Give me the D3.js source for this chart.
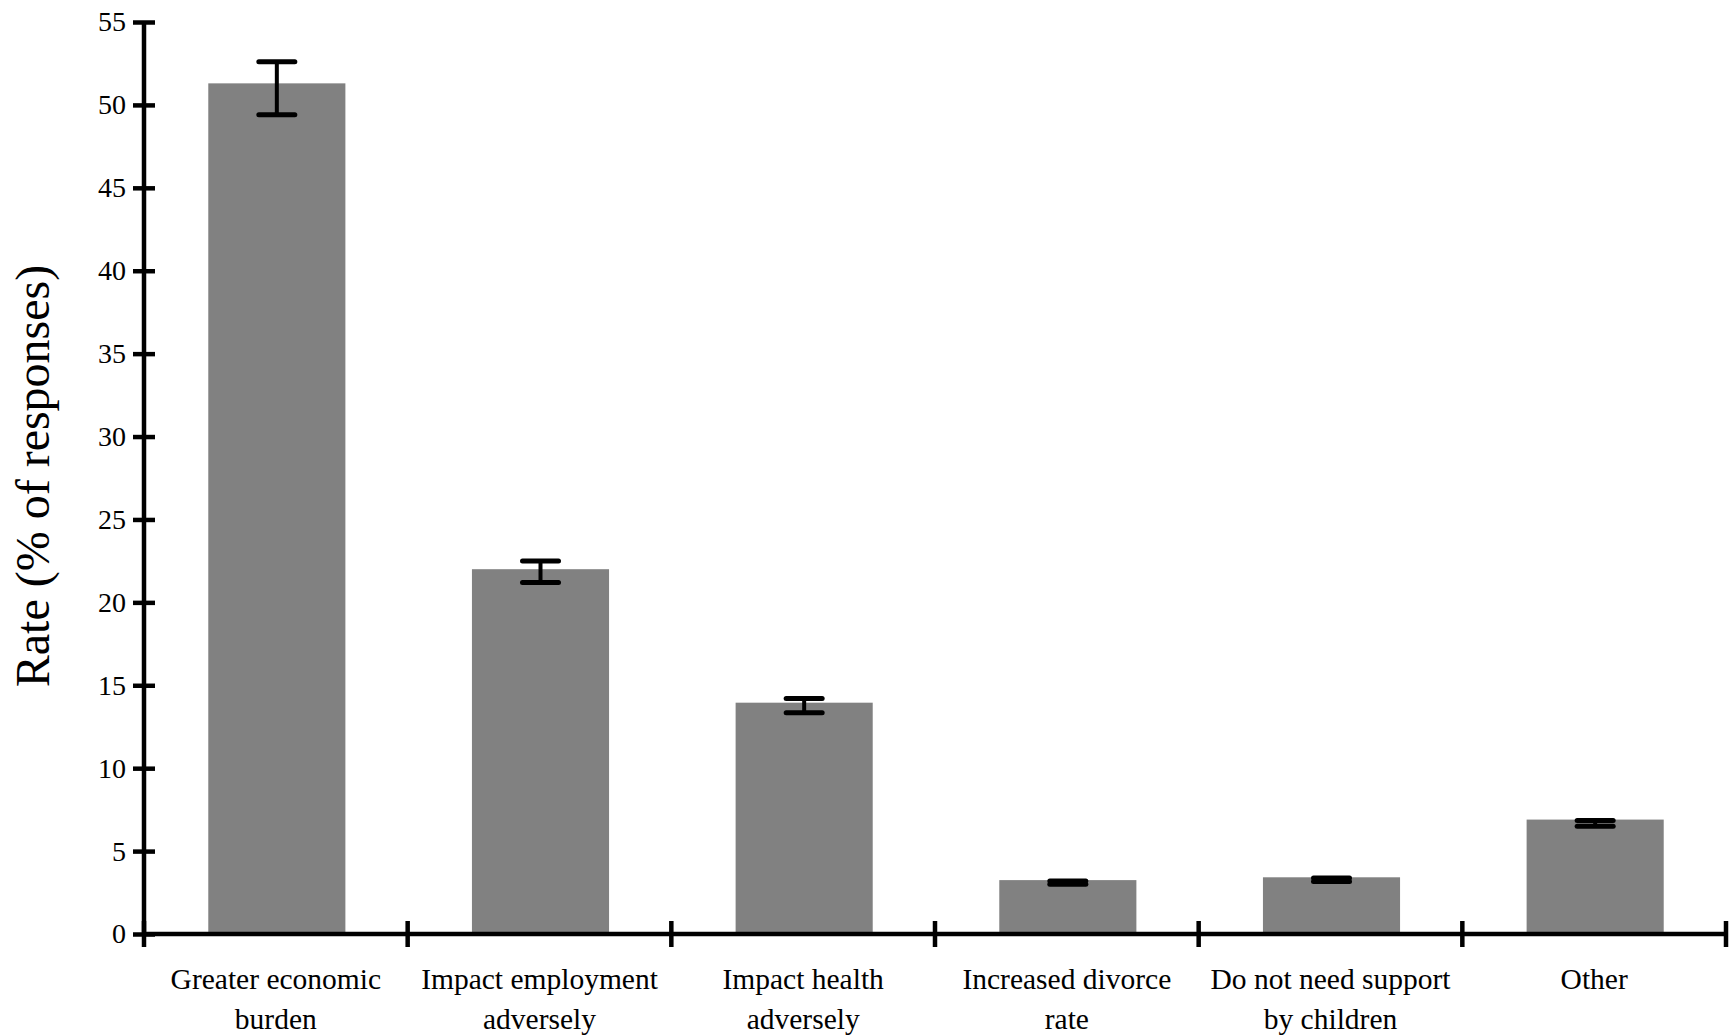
<!DOCTYPE html>
<html>
<head>
<meta charset="utf-8">
<script src="https://cdn.jsdelivr.net/npm/d3@7"></script>
<style>
  html, body { margin: 0; padding: 0; background: #fff; }
  svg { display: block; }
  text { font-family: "Liberation Serif", "Times New Roman", serif; fill: #000; }
</style>
</head>
<body>
<svg id="chart" width="1735" height="1036"></svg>
<script>
// ---- data ----
const categories = [
  ["Greater economic", "burden"],
  ["Impact employment", "adversely"],
  ["Impact health", "adversely"],
  ["Increased divorce", "rate"],
  ["Do not need support", "by children"],
  ["Other"]
];
const rates = [51.3, 22.0, 13.95, 3.25, 3.42, 6.9];
const errHigh = [52.6, 22.5, 14.2, 3.2, 3.37, 6.85];
const errLow = [49.4, 21.2, 13.35, 3.0, 3.17, 6.5];
const yTicks = [0, 5, 10, 15, 20, 25, 30, 35, 40, 45, 50, 55];
const yTitle = "Rate (% of responses)";

// ---- layout ----
const svg = d3.select("#chart");
const x0 = 144, x1 = 1726, yBase = 934, yTop = 22;

const idx = categories.map((d, i) => i);
const x = d3.scaleBand().domain(idx).range([x0, x1]).paddingInner(0.48).paddingOuter(0.24);
const xEdge = d3.scaleLinear().domain([0, categories.length]).range([x0, x1]);
const y = d3.scaleLinear().domain([0, 55]).range([yBase, yTop]);

// bars
svg.append("g").selectAll("rect").data(rates).join("rect")
  .attr("x", (d, i) => x(i) + 1)
  .attr("y", d => y(d))
  .attr("width", x.bandwidth())
  .attr("height", d => y(0) - y(d))
  .attr("fill", "#818181");

// error bars
const eb = svg.append("g").attr("stroke", "#000");
const capW = 36;
rates.forEach((v, i) => {
  const cx = x(i) + 1 + x.bandwidth() / 2;
  eb.append("line").attr("x1", cx).attr("x2", cx)
    .attr("y1", y(errHigh[i])).attr("y2", y(errLow[i])).attr("stroke-width", 4);
  [errHigh[i], errLow[i]].forEach(e => {
    eb.append("line").attr("x1", cx - capW / 2).attr("x2", cx + capW / 2)
      .attr("y1", y(e)).attr("y2", y(e)).attr("stroke-width", 5).attr("stroke-linecap", "round");
  });
});

// y axis
const yAxis = svg.append("g").attr("transform", `translate(${x0},0)`)
  .call(d3.axisLeft(y).tickValues(yTicks).tickSize(11).tickPadding(8));
yAxis.select(".domain").remove();
yAxis.selectAll(".tick line").attr("x1", 11).attr("x2", -11).attr("stroke", "#000").attr("stroke-width", 4.5);
yAxis.selectAll(".tick text").attr("font-size", 28).attr("font-family", "Liberation Serif").attr("x", -18);
yAxis.append("line").attr("x1", 0).attr("x2", 0).attr("y1", y(55)).attr("y2", y(0))
  .attr("stroke", "#000").attr("stroke-width", 4.5);

// x axis
const xAxis = svg.append("g");
xAxis.append("line").attr("x1", x0).attr("x2", x1).attr("y1", y(0)).attr("y2", y(0))
  .attr("stroke", "#000").attr("stroke-width", 4.5);
xAxis.selectAll("line.tk").data(d3.range(categories.length + 1)).join("line")
  .attr("class", "tk")
  .attr("x1", d => xEdge(d)).attr("x2", d => xEdge(d))
  .attr("y1", y(0) - 13).attr("y2", y(0) + 13)
  .attr("stroke", "#000").attr("stroke-width", 4.5);

// category labels
const lab = svg.append("g");
categories.forEach((lines, i) => {
  const cx = (xEdge(i) + xEdge(i + 1)) / 2;
  const t = lab.append("text").attr("text-anchor", "middle").attr("font-size", 29.5);
  lines.forEach((s, k) => {
    t.append("tspan").attr("x", cx).attr("y", 989 + k * 40).text(s);
  });
});

// y title
svg.append("text")
  .attr("transform", `translate(49,476) rotate(-90)`)
  .attr("text-anchor", "middle")
  .attr("font-size", 48)
  .text(yTitle);
</script>
</body>
</html>
